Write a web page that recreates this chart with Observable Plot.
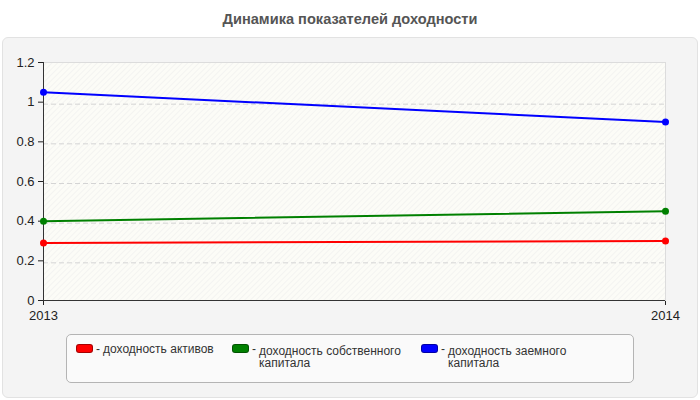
<!DOCTYPE html>
<html>
<head>
<meta charset="utf-8">
<script src="https://cdn.jsdelivr.net/npm/d3@7"></script>
<script src="https://cdn.jsdelivr.net/npm/@observablehq/plot@0.6"></script>
<style>
  html, body { margin: 0; padding: 0; background: #fff; }
  #wrap { position: relative; width: 700px; height: 400px; overflow: hidden; font-family: "Liberation Sans", Arial, sans-serif; }
  #title { position: absolute; left: 0; top: 11px; width: 700px; text-align: center; font-weight: bold; font-size: 14.6px; color: #555; }
  #panel { position: absolute; left: 2px; top: 37px; width: 694px; height: 359px; background: #f4f4f4; border: 1px solid #e2e2e2; border-radius: 6px; }
  #chart { position: absolute; left: 0; top: 0; }
  #legend { position: absolute; left: 66px; top: 334px; width: 566px; height: 47px; background: #fafafa; border: 1px solid #b4b4b4; border-radius: 5px; }
  .item { position: absolute; top: 8px; font-size: 12px; color: #333; line-height: 12px; }
  .sw { position: absolute; top: 2px; width: 15px; height: 7px; border-radius: 3px; border: 1px solid rgba(0,0,0,0.35); }
  .dash { position: absolute; top: 0; }
  .txt { position: absolute; top: 0; }
</style>
</head>
<body>
<div id="wrap">
  <div id="title">Динамика показателей доходности</div>
  <div id="panel"></div>
  <div id="chart"></div>
  <div id="legend"></div>
</div>
<script>
const years = [2013, 2014];
const seriesNames = ["доходность активов", "доходность собственного капитала", "доходность заемного капитала"];
const seriesColors = ["#ff0000", "#008000", "#0000ff"];
const assetsReturn = [0.29, 0.30];
const equityReturn = [0.40, 0.45];
const borrowedReturn = [1.05, 0.90];
const yTicks = [0, 0.2, 0.4, 0.6, 0.8, 1, 1.2];
const gridTicks = [0.2, 0.4, 0.6, 0.8, 1.0];

const valuesBySeries = [assetsReturn, equityReturn, borrowedReturn];
const rows = [];
seriesNames.forEach((s, i) => years.forEach((y, j) => rows.push({series: s, year: y, value: valuesBySeries[i][j]})));

const plot = Plot.plot({
  width: 700,
  height: 330,
  marginLeft: 43,
  marginRight: 35,
  marginTop: 62,
  marginBottom: 30,
  style: {background: "transparent", overflow: "visible", fontFamily: "Liberation Sans, Arial, sans-serif", fontSize: "13px", color: "#222"},
  x: {type: "linear", domain: [2013, 2014], ticks: years, tickFormat: d3.format("d"), label: null, tickSize: 5, tickPadding: 5},
  y: {domain: [0, 1.2], ticks: yTicks, tickFormat: d => String(+d.toFixed(1)), label: null, tickSize: 5, tickPadding: 4},
  color: {domain: seriesNames, range: seriesColors},
  marks: [
    Plot.frame({fill: "#fcfcf7"}),
    Plot.frame({fill: "url(#hatch)", stroke: "#dcdcdc"}),
    Plot.ruleY(gridTicks, {stroke: "#d4d4d4", strokeDasharray: "5,3", dy: 2}),
    Plot.ruleX([2013], {stroke: "#333", strokeWidth: 1}),
    Plot.ruleY([0], {stroke: "#333", strokeWidth: 1}),
    Plot.line(rows, {x: "year", y: "value", z: "series", stroke: "series", strokeWidth: 2}),
    Plot.dot(rows, {x: "year", y: "value", fill: "series", r: 3.5})
  ]
});

// hatch pattern for plot background
const ns = "http://www.w3.org/2000/svg";
const defs = document.createElementNS(ns, "defs");
defs.innerHTML = '<pattern id="hatch" patternUnits="userSpaceOnUse" width="4" height="4" patternTransform="rotate(45)"><line x1="0" y1="0" x2="0" y2="4" stroke="#ececec" stroke-width="1"/></pattern>';
plot.insertBefore(defs, plot.firstChild);
document.getElementById("chart").appendChild(plot);

// legend
const legend = document.getElementById("legend");
const itemLefts = [9, 165, 354];
const textWidths = [150, 160, 140];
seriesNames.forEach((name, i) => {
  const it = document.createElement("div");
  it.className = "item";
  it.style.left = itemLefts[i] + "px";
  it.style.top = (i === 0 ? 8 : 10) + "px";
  const sw = document.createElement("div");
  sw.className = "sw";
  sw.style.background = seriesColors[i];
  sw.style.top = (i === 0 ? 1 : -1) + "px";
  it.appendChild(sw);
  const dash = document.createElement("span");
  dash.className = "dash";
  dash.style.left = "20px";
  dash.style.top = (i === 0 ? 0 : -2) + "px";
  dash.textContent = "-";
  it.appendChild(dash);
  const tx = document.createElement("span");
  tx.className = "txt";
  tx.style.left = "27px";
  tx.style.width = textWidths[i] + "px";
  tx.textContent = name;
  it.appendChild(tx);
  legend.appendChild(it);
});
</script>
</body>
</html>
